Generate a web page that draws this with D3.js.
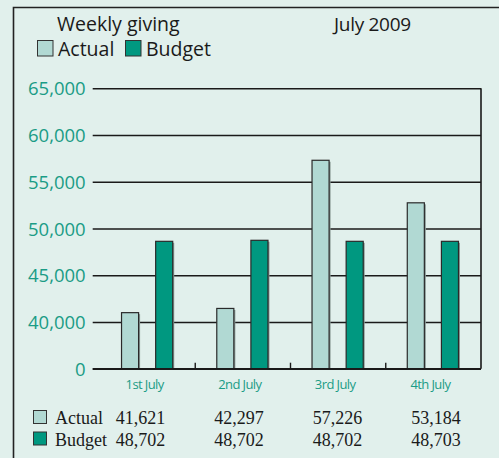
<!DOCTYPE html>
<html>
<head>
<meta charset="utf-8">
<script src="https://cdn.jsdelivr.net/npm/d3@7"></script>
<style>
  html, body { margin: 0; padding: 0; background: #e1f0ec; }
  svg { display: block; }
</style>
</head>
<body>
<div id="chart"></div>
<script>
// chart values
var days = ["1st July", "2nd July", "3rd July", "4th July"];
var series = ["Actual", "Budget"];
// bar heights as drawn in the picture
var actual = [41000, 41450, 57300, 52750];
var budget = [48630, 48740, 48630, 48630];
// figures printed in the table under the chart
var actualText = ["41,621", "42,297", "57,226", "53,184"];
var budgetText = ["48,702", "48,702", "48,702", "48,703"];
var yTicks = [0, 40000, 45000, 50000, 55000, 60000, 65000];

var width = 499, height = 458;
var teal = "#1a9c86";
var colors = { Actual: "#b1d9d3", Budget: "#009880" };

var svg = d3.select("#chart").append("svg")
  .attr("width", width)
  .attr("height", height);

// frame (top and left edges)
svg.append("path")
  .attr("d", "M13.5," + height + "V7.5H" + width)
  .attr("fill", "none")
  .attr("stroke", "#222")
  .attr("stroke-width", 1.6);

// titles
svg.append("text").attr("x", 57).attr("y", 31)
  .attr("font-family", "Open Sans").attr("font-size", 19.5).attr("fill", "#1a1a1a")
  .text("Weekly giving");
svg.append("text").attr("x", 334).attr("y", 31)
  .attr("font-family", "Open Sans").attr("font-size", 19).attr("fill", "#1a1a1a")
  .attr("letter-spacing", -0.3)
  .text("July 2009");

// legend
var legendX = [37, 125];
series.forEach(function(s, i) {
  svg.append("rect")
    .attr("x", legendX[i] + 0.5).attr("y", 40.5)
    .attr("width", 15.5).attr("height", 15.5)
    .attr("fill", colors[s]).attr("stroke", "#333").attr("stroke-width", 1);
  svg.append("text")
    .attr("x", legendX[i] + 21).attr("y", 56)
    .attr("font-family", "Open Sans").attr("font-size", 19.5).attr("fill", "#1a1a1a")
    .text(s);
});

// scales: axis is broken between 0 and 40,000
var plotL = 92.7, plotR = 481, plotT = 88.3, plotB = 368.7;
var y = d3.scaleLinear()
  .domain([0, 40000, 65000])
  .range([plotB, 322, plotT]);
var x0 = d3.scaleBand().domain(days).range([100, plotR]);
var x1 = d3.scaleBand().domain(series)
  .range([13, x0.bandwidth() - 14])
  .paddingInner(0.5).paddingOuter(0.25);

// grid + y labels
var yAxis = svg.append("g")
  .attr("transform", "translate(" + plotL + ",0)")
  .call(d3.axisLeft(y)
    .tickValues(yTicks)
    .tickFormat(d3.format(","))
    .tickSize(-(plotR - plotL))
    .tickPadding(7));
yAxis.select(".domain").remove();
yAxis.selectAll(".tick line")
  .attr("stroke", "#1a1a1a").attr("stroke-width", 1.6);
yAxis.selectAll(".tick text")
  .attr("fill", teal)
  .attr("font-family", "Open Sans")
  .attr("font-size", 18.5)
  .attr("dy", "0.36em");

// right border
svg.append("line")
  .attr("x1", plotR).attr("x2", plotR)
  .attr("y1", plotT).attr("y2", plotB)
  .attr("stroke", "#1a1a1a").attr("stroke-width", 1.6);

// small ticks between days
svg.selectAll(".sep")
  .data(days.slice(1))
  .enter().append("line")
  .attr("x1", function(d) { return x0(d); })
  .attr("x2", function(d) { return x0(d); })
  .attr("y1", plotB - 6).attr("y2", plotB)
  .attr("stroke", "#1a1a1a").attr("stroke-width", 1.4);

// bars
var rows = days.map(function(d, i) {
  return { day: d, values: [
    { key: "Actual", value: actual[i] },
    { key: "Budget", value: budget[i] }
  ] };
});

var groups = svg.selectAll(".day")
  .data(rows)
  .enter().append("g")
  .attr("transform", function(d) { return "translate(" + x0(d.day) + ",0)"; });

// soft shadow
groups.selectAll(".shadow")
  .data(function(d) { return d.values; })
  .enter().append("rect")
  .attr("x", function(d) { return x1(d.key) + 1.5; })
  .attr("y", function(d) { return y(d.value) + 1.5; })
  .attr("width", x1.bandwidth())
  .attr("height", function(d) { return plotB - y(d.value) - 1.5; })
  .attr("fill", "#8a9a96");

groups.selectAll(".bar")
  .data(function(d) { return d.values; })
  .enter().append("rect")
  .attr("x", function(d) { return x1(d.key); })
  .attr("y", function(d) { return y(d.value); })
  .attr("width", x1.bandwidth())
  .attr("height", function(d) { return plotB - y(d.value); })
  .attr("fill", function(d) { return colors[d.key]; })
  .attr("stroke", "#2a2a2a")
  .attr("stroke-width", 1.2);

// baseline over bars
svg.append("line")
  .attr("x1", plotL).attr("x2", plotR)
  .attr("y1", plotB).attr("y2", plotB)
  .attr("stroke", "#1a1a1a").attr("stroke-width", 1.6);

// day labels
svg.selectAll(".daylabel")
  .data(days)
  .enter().append("text")
  .attr("x", function(d) { return x0(d) + x0.bandwidth() / 2 - 3; })
  .attr("y", 389)
  .attr("text-anchor", "middle")
  .attr("font-family", "Open Sans")
  .attr("font-size", 13)
  .attr("letter-spacing", -0.6)
  .attr("fill", teal)
  .text(function(d) { return d; });

// table under the chart
var col = d3.scalePoint().domain(days).range([140.5, 436]);
var tableRows = [
  { key: "Actual", texts: actualText, y: 424 },
  { key: "Budget", texts: budgetText, y: 445.5 }
];
tableRows.forEach(function(r) {
  svg.append("rect")
    .attr("x", 33.5).attr("y", r.y - 13.5)
    .attr("width", 13).attr("height", 13)
    .attr("fill", colors[r.key]).attr("stroke", "#333").attr("stroke-width", 1);
  svg.append("text")
    .attr("x", 55).attr("y", r.y)
    .attr("font-family", "Liberation Serif").attr("font-size", 18)
    .attr("fill", "#1a1a1a")
    .text(r.key);
  svg.selectAll(null)
    .data(r.texts)
    .enter().append("text")
    .attr("x", function(d, i) { return col(days[i]); })
    .attr("y", r.y)
    .attr("text-anchor", "middle")
    .attr("font-family", "Liberation Serif").attr("font-size", 18)
    .attr("fill", "#1a1a1a")
    .text(function(d) { return d; });
});
</script>
</body>
</html>
